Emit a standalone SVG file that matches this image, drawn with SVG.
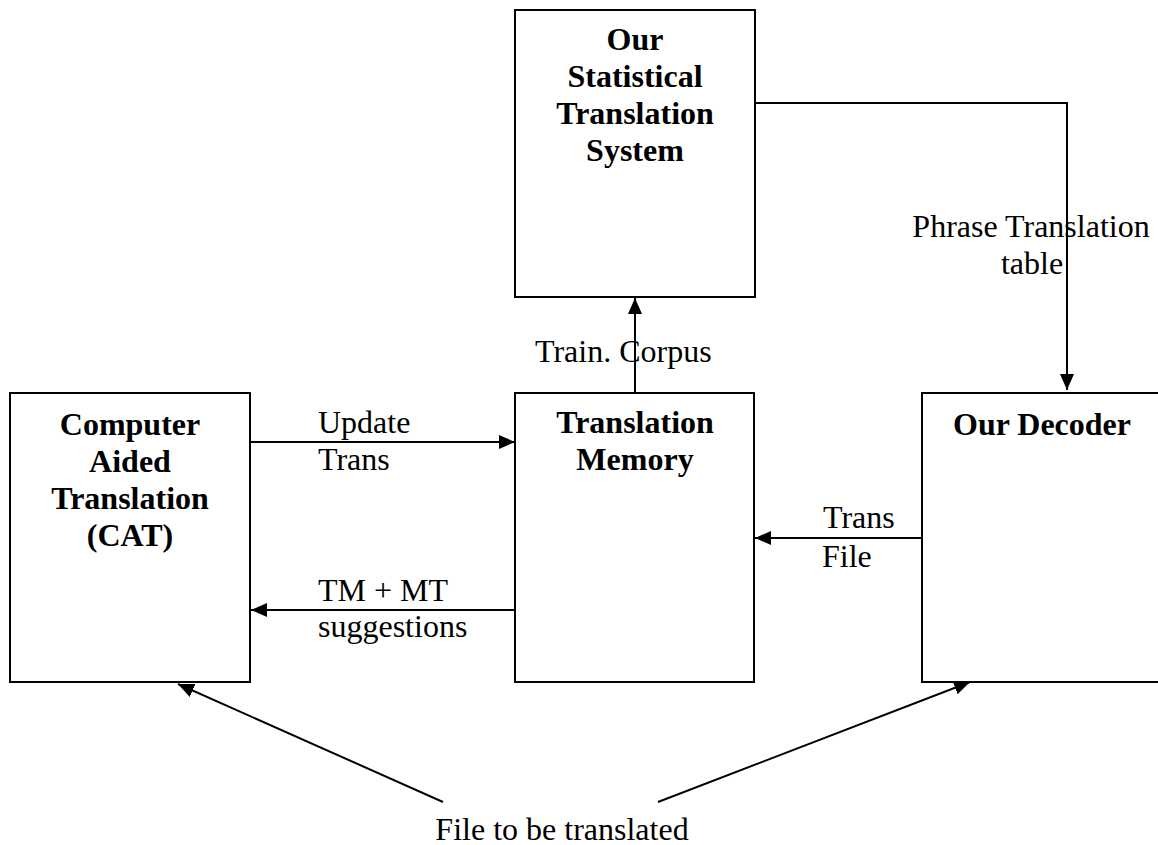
<svg xmlns="http://www.w3.org/2000/svg" width="1158" height="845" viewBox="0 0 1158 845">
<style>
.box{fill:#fff;stroke:#000;stroke-width:2}
.lbl{font-family:"Liberation Serif","Times New Roman",serif;font-size:32px;font-weight:bold;text-anchor:middle;fill:#000}
.t{font-family:"Liberation Serif","Times New Roman",serif;font-size:32px;fill:#000}
.c{text-anchor:middle}
.ln{fill:none;stroke:#000;stroke-width:2}
</style>
<defs>
<marker id="ah" markerUnits="userSpaceOnUse" markerWidth="16" markerHeight="14" refX="16" refY="7" orient="auto">
<path d="M0,0 L16,7 L0,14 Z" fill="#000"/>
</marker>
</defs>
<rect width="1158" height="845" fill="#fff"/>
<g id="stats">
<rect class="box" x="515" y="10" width="240" height="287"/>
<text class="lbl" x="635" y="50">Our</text>
<text class="lbl" x="635" y="87">Statistical</text>
<text class="lbl" x="635" y="124">Translation</text>
<text class="lbl" x="635" y="161">System</text>
</g>
<g id="cat">
<rect class="box" x="10" y="393" width="240" height="289"/>
<text class="lbl" x="130" y="435">Computer</text>
<text class="lbl" x="130" y="472">Aided</text>
<text class="lbl" x="130" y="509">Translation</text>
<text class="lbl" x="130" y="546">(CAT)</text>
</g>
<g id="tm">
<rect class="box" x="515" y="393" width="239" height="289"/>
<text class="lbl" x="635" y="433">Translation</text>
<text class="lbl" x="635" y="470">Memory</text>
</g>
<g id="decoder">
<rect class="box" x="922" y="393" width="240" height="289"/>
<text class="lbl" x="1042" y="435">Our Decoder</text>
</g>
<g id="connectors">
<polyline class="ln" points="755,103 1067,103 1067,390" marker-end="url(#ah)"/>
<line class="ln" x1="635" y1="393" x2="635" y2="298" marker-end="url(#ah)"/>
<line class="ln" x1="250" y1="442" x2="515" y2="442" marker-end="url(#ah)"/>
<line class="ln" x1="515" y1="610" x2="251" y2="610" marker-end="url(#ah)"/>
<line class="ln" x1="922" y1="538" x2="755" y2="538" marker-end="url(#ah)"/>
<line class="ln" x1="443" y1="802" x2="178" y2="684" marker-end="url(#ah)"/>
<line class="ln" x1="658" y1="802" x2="970" y2="682" marker-end="url(#ah)"/>
</g>
<g id="labels">
<text class="t c" x="1031" y="237">Phrase Translation</text>
<text class="t c" x="1032" y="274">table</text>
<text class="t" x="535" y="362">Train. Corpus</text>
<text class="t" x="318" y="433">Update</text>
<text class="t" x="318" y="470">Trans</text>
<text class="t" x="318" y="601">TM + MT</text>
<text class="t" x="318" y="637">suggestions</text>
<text class="t" x="823" y="528">Trans</text>
<text class="t" x="822" y="567">File</text>
<text class="t c" x="562" y="840">File to be translated</text>
</g>
</svg>
